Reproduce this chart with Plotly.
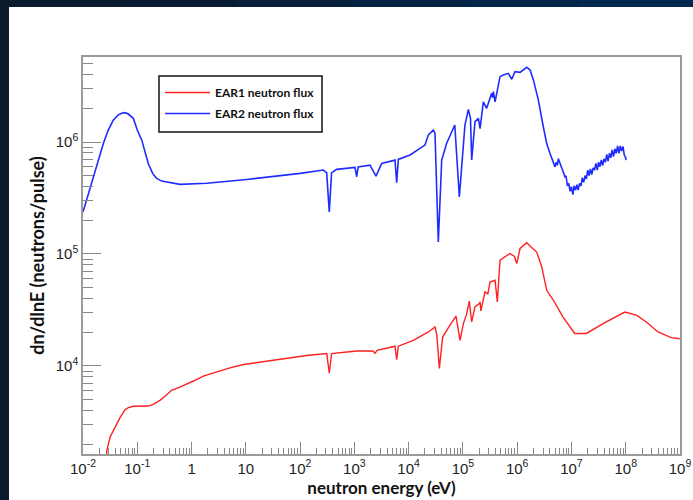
import plotly.graph_objects as go

# ---------------- data ----------------
ear2_energy = [0.01, 0.0155, 0.0191, 0.0237, 0.0292, 0.0361, 0.0447, 0.0516, 0.0594, 0.0684,
               0.0845, 0.1, 0.121, 0.139, 0.160, 0.192, 0.228, 0.282, 0.348,
               0.533, 0.61, 1.9, 10.4, 100, 152, 268, 309, 345, 380,
               472, 1028, 1104, 1175, 1941, 2506, 3192, 5610, 6026, 6457,
               1.06e4, 2.0e4, 2.31e4, 2.85e4, 3.06e4, 3.52e4, 4.07e4, 5.0e4, 6.65e4, 7.08e4,
               8.6e4, 9.75e4, 1.09e5, 1.26e5, 1.38e5, 1.45e5, 1.67e5, 1.93e5, 2.07e5, 2.38e5,
               2.74e5, 3.39e5, 3.52e5, 3.64e5, 3.91e5, 4.83e5, 5.56e5, 6.87e5, 7.93e5, 9.12e5,
               1.13e6, 1.5e6, 1.73e6, 1.99e6, 2.45e6, 3.03e6, 3.5e6, 4.03e6, 4.98e6, 5.25e6,
               5.5e6, 5.74e6, 6.17e6, 6.6e6, 7.08e6, 7.6e6,
               7.94e6, 8.41e6, 8.91e6, 9.44e6, 1.0e7, 1.06e7, 1.12e7, 1.19e7, 1.26e7, 1.33e7,
               1.41e7, 1.5e7, 1.58e7, 1.68e7, 1.78e7, 1.88e7, 2.0e7, 2.11e7, 2.24e7, 2.37e7,
               2.51e7, 2.66e7, 2.82e7, 2.99e7, 3.16e7, 3.35e7, 3.55e7, 3.76e7, 3.98e7, 4.22e7,
               4.47e7, 4.73e7, 5.01e7, 5.31e7, 5.62e7, 5.96e7, 6.31e7, 6.68e7, 7.08e7, 7.5e7,
               7.94e7, 8.41e7, 8.91e7, 9.44e7, 1.0e8, 1.01e8]
ear2_flux = [2.37e5, 4.9e5, 7.1e5, 9.7e5, 1.28e6, 1.57e6, 1.75e6, 1.81e6, 1.83e6, 1.78e6,
             1.63e6, 1.28e6, 1.04e6, 8.2e5, 6.4e5, 5.25e5, 4.73e5, 4.48e5, 4.4e5,
             4.27e5, 4.19e5, 4.28e5, 4.63e5, 5.25e5, 5.42e5, 5.62e5, 5.3e5, 2.38e5, 5.3e5,
             5.70e5, 5.94e5, 4.9e5, 6.0e5, 6.22e5, 4.97e5, 6.44e5, 6.9e5, 4.33e5, 7.0e5,
             7.66e5, 9.4e5, 1.16e6, 1.28e6, 1.2e6, 1.28e5, 6.9e5, 9.7e5, 1.37e6, 1.42e6,
             3.24e5, 7.9e5, 1.42e6, 1.96e6, 1.63e6, 6.9e5, 1.52e6, 1.63e6, 1.32e6, 2.29e6,
             2.0e6, 2.73e6, 2.5e6, 2.82e6, 2.29e6, 3.84e6, 3.98e6, 4.11e6, 3.64e6, 4.26e6,
             4.2e6, 4.66e6, 4.4e6, 3.59e6, 2.38e6, 1.37e6, 9.7e5, 7.9e5, 6.0e5, 6.6e5,
             6.2e5, 7.1e5, 6.4e5, 5.8e5, 5.4e5, 4.9e5,
             5.0e5, 4.07e5, 4.27e5, 3.63e5, 3.98e5, 3.39e5, 4.07e5, 3.72e5, 4.17e5, 3.72e5,
             4.27e5, 4.07e5, 4.79e5, 4.37e5, 5.01e5, 4.68e5, 5.62e5, 5.01e5, 5.75e5, 5.13e5,
             5.89e5, 5.62e5, 6.46e5, 5.62e5, 6.61e5, 6.03e5, 6.92e5, 6.17e5, 7.08e5, 6.61e5,
             7.76e5, 6.76e5, 7.94e5, 7.24e5, 8.51e5, 7.41e5, 8.71e5, 7.94e5, 9.23e5, 7.94e5,
             9.23e5, 8.32e5, 9.12e5, 7.59e5, 7.24e5, 6.9e5]

ear1_energy = [0.0268, 0.0275, 0.0315, 0.0361, 0.0418, 0.0481, 0.0594, 0.0684, 0.0845, 0.112,
               0.160, 0.197, 0.262, 0.324, 0.43, 0.61, 0.815,
               1.08, 1.65, 2.9, 5.1, 9.0, 32, 100, 132, 310, 345, 380, 1104,
               2188, 2400, 2630, 5610, 6026, 6457, 1.22e4, 2.31e4, 3.06e4, 3.3e4,
               3.68e4, 4.23e4, 5.78e4, 7.46e4, 8.85e4, 1.02e5, 1.17e5, 1.31e5, 1.45e5, 1.67e5,
               2.0e5, 2.07e5, 2.14e5, 2.55e5, 2.88e5, 3.16e5, 3.91e5, 4.31e5, 4.83e5, 5.97e5,
               7.38e5, 8.9e5, 9.8e5, 1.13e6, 1.5e6, 1.82e6, 2.29e6, 2.83e6, 3.5e6, 4.65e6,
               5.74e6, 7.0e6, 1.15e7, 1.88e7, 3.82e7, 9.6e7, 1.57e8, 2.4e8, 3.94e8, 6.9e8,
               9.9e8]
ear1_flux = [1.4e3, 1.75e3, 2.31e3, 2.65e3, 3.05e3, 3.45e3, 4.06e3, 4.24e3, 4.36e3, 4.38e3,
             4.38e3, 4.54e3, 4.92e3, 5.35e3, 6.05e3, 6.47e3, 6.95e3,
             7.33e3, 8.1e3, 8.83e3, 9.6e3, 1.03e4, 1.12e4, 1.2e4, 1.24e4, 1.29e4, 8.6e3, 1.29e4, 1.36e4,
             1.36e4, 1.30e4, 1.38e4, 1.5e4, 1.14e4, 1.5e4, 1.69e4, 2.01e4, 2.23e4, 1.9e4,
             9.5e3, 1.81e4, 2.31e4, 2.78e4, 1.69e4, 2.39e4, 2.9e4, 3.8e4, 2.47e4, 3.37e4,
             3.6e4, 3.73e4, 3.1e4, 4.58e4, 4.4e4, 5.62e4, 5.83e4, 3.73e4, 8.8e4, 9.4e4,
             1.01e5, 9.5e4, 8.2e4, 1.12e5, 1.26e5, 1.15e5, 1.04e5, 7.7e4, 4.74e4, 3.86e4,
             3.25e4, 2.73e4, 1.95e4, 1.95e4, 2.39e4, 3.03e4, 2.84e4, 2.47e4, 2.01e4, 1.79e4,
             1.75e4]

series_names = ["EAR1 neutron flux", "EAR2 neutron flux"]

x_tickvals = [1e-2, 1e-1, 1, 10, 1e2, 1e3, 1e4, 1e5, 1e6, 1e7, 1e8, 1e9]
x_ticktext = ["10<sup>-2</sup>", "10<sup>-1</sup>", "1", "10", "10<sup>2</sup>", "10<sup>3</sup>",
              "10<sup>4</sup>", "10<sup>5</sup>", "10<sup>6</sup>", "10<sup>7</sup>",
              "10<sup>8</sup>", "10<sup>9</sup>"]
y_tickvals = [1e4, 1e5, 1e6]
y_ticktext = ["10<sup>4</sup>", "10<sup>5</sup>", "10<sup>6</sup>"]

x_title = "neutron energy (eV)"
y_title = "dn/dlnE (neutrons/pulse)"

# ---------------- figure ----------------
W, H = 693, 500
L, R, T, B = 83, 13, 57, 46
pw, ph = W - L - R, H - T - B

def px_x(p):
    return (p - L) / pw

def px_y(p):
    return (H - B - p) / ph

fig = go.Figure()
fig.add_trace(go.Scatter(x=ear1_energy, y=ear1_flux, mode="lines",
                         name="<b>" + series_names[0] + "</b>", legendgroup="a",
                         line=dict(color="#ff2020", width=1.4)))
fig.add_trace(go.Scatter(x=ear2_energy, y=ear2_flux, mode="lines",
                         name="<b>" + series_names[1] + "</b>", legendgroup="b",
                         line=dict(color="#1f2cff", width=1.6)))

minor_x = [k * 10.0 ** d for d in range(-2, 9) for k in range(2, 10)]
minor_y = [k * 10.0 ** d for d in range(3, 7) for k in range(1, 10)]

axis_grey = "#9a9a9a"
tick_font = dict(family="Liberation Sans, Arial, sans-serif", size=15, color="#222222")

fig.update_xaxes(type="log", range=[-2, 9], tickmode="array", tickvals=x_tickvals,
                 ticktext=x_ticktext, ticks="inside", ticklen=12, tickwidth=1,
                 tickcolor="#888888", showgrid=False, zeroline=False,
                 showline=True, linecolor=axis_grey, linewidth=1.5, mirror=True,
                 tickfont=tick_font,
                 minor=dict(tickmode="array", tickvals=minor_x, ticks="inside", ticklen=6,
                            tickcolor="#888888", tickwidth=1, showgrid=False),
                 title=dict(text="<b>" + x_title + "</b>",
                            font=dict(family="Lato, Open Sans, sans-serif", size=17, color="#111111"),
                            standoff=2))
fig.update_yaxes(type="log", range=[3.213, 6.76], tickmode="array", tickvals=y_tickvals,
                 ticktext=y_ticktext, ticks="inside", ticklen=18, tickwidth=1,
                 tickcolor="#888888", showgrid=False, zeroline=False,
                 showline=True, linecolor=axis_grey, linewidth=1.5, mirror=True,
                 tickfont=tick_font,
                 minor=dict(tickmode="array", tickvals=minor_y, ticks="inside", ticklen=10,
                            tickcolor="#888888", tickwidth=1, showgrid=False),
                 title=dict(text="<b>" + y_title + "</b>",
                            font=dict(family="Lato, Open Sans, sans-serif", size=18, color="#111111"),
                            standoff=6))

# slide background: dark border at left and top, white panel
shapes = [dict(type="rect", xref="paper", yref="paper", layer="below",
               x0=px_x(9), x1=px_x(W + 20), y0=px_y(H + 20), y1=px_y(7),
               fillcolor="white", line=dict(width=0))]
top_cols = ["#0b1a2e", "#0a1c34", "#081f3c", "#062243", "#04254a", "#022850"]
seg = (W - 9) / len(top_cols)
for i, c in enumerate(top_cols):
    shapes.append(dict(type="rect", xref="paper", yref="paper", layer="below",
                       x0=px_x(9 + i * seg), x1=px_x(9 + (i + 1) * seg + 1),
                       y0=px_y(7), y1=px_y(-5), fillcolor=c, line=dict(width=0)))
# legend frame
shapes.append(dict(type="rect", xref="paper", yref="paper", layer="above",
                   x0=px_x(159), x1=px_x(322), y0=px_y(132), y1=px_y(76),
                   fillcolor="white", line=dict(color="#111111", width=1.5)))

fig.update_layout(
    width=W, height=H,
    margin=dict(l=L, r=R, t=T, b=B, autoexpand=False),
    paper_bgcolor="#0b1a2e", plot_bgcolor="white",
    shapes=shapes,
    showlegend=True,
    legend=dict(x=px_x(160), y=px_y(78), xanchor="left", yanchor="top",
                bgcolor="rgba(0,0,0,0)", borderwidth=0,
                font=dict(family="Lato, Open Sans, sans-serif", size=12, color="#111111"),
                itemwidth=45, traceorder="grouped", tracegroupgap=2),
)

fig.write_html("out.html")
